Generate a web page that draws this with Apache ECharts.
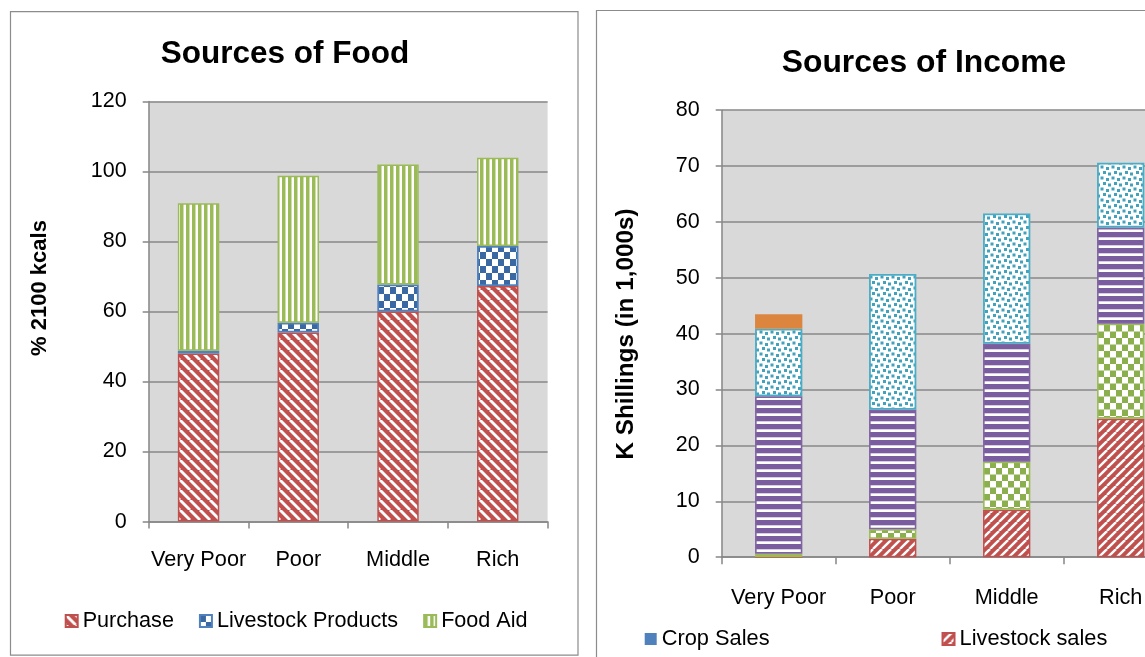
<!DOCTYPE html>
<html>
<head>
<meta charset="utf-8">
<script src="https://cdn.jsdelivr.net/npm/echarts@6/dist/echarts.min.js"></script>
<style>
html,body{margin:0;padding:0;background:#fff;}
#c{width:1145px;height:657px;}
</style>
</head>
<body>
<div id="c"></div>
<script>
// ---- data ----
const categories = ['Very Poor', 'Poor', 'Middle', 'Rich'];
// Sources of Food (% 2100 kcals)
const purchase = [48, 54, 60, 67.3];
const livestockProducts = [0.8, 2.8, 7.7, 11.4];
const foodAid = [42.1, 42, 34.3, 25.2];
const foodTicks = {min: 0, max: 120, interval: 20};
// Sources of Income (K Shillings in 1,000s)
const cropSales = [0, 0, 0, 0];
const livestockSales = [0, 3.3, 8.5, 24.8];
const produceSales = [0.6, 1.7, 8.6, 17.0];
const selfEmployment = [28.2, 21.4, 21.1, 17.2];
const labour = [12.1, 24.3, 23.3, 11.6];
const gifts = [2.6, 0, 0, 0];
const incomeTicks = {min: 0, max: 80, interval: 10};

// ---- patterns ----
function tile(w, h, draw) {
  const c = document.createElement('canvas');
  c.width = w; c.height = h;
  draw(c.getContext('2d'));
  return {image: c, repeat: 'repeat'};
}
const RED = '#C0504D', BLUE = '#4F81BD', GREEN = '#9BBB59', PURPLE = '#8064A2', TEAL = '#4BACC6', ORANGE = '#DB853F';

const patDown = tile(10, 10, ctx => { // "\" stripes
  ctx.fillStyle = RED; ctx.fillRect(0, 0, 10, 10);
  ctx.strokeStyle = '#fff'; ctx.lineWidth = 2.8;
  for (const k of [-10, 0, 10]) { ctx.beginPath(); ctx.moveTo(k, 0); ctx.lineTo(k + 10, 10); ctx.stroke(); }
});
const patUp = tile(9, 9, ctx => { // "/" stripes
  ctx.fillStyle = RED; ctx.fillRect(0, 0, 9, 9);
  ctx.strokeStyle = '#fff'; ctx.lineWidth = 2.4;
  for (const k of [-9, 0, 9]) { ctx.beginPath(); ctx.moveTo(k, 9); ctx.lineTo(k + 9, 0); ctx.stroke(); }
});
const patBlueCheck = tile(12, 14, ctx => {
  ctx.fillStyle = '#fff'; ctx.fillRect(0, 0, 12, 14);
  ctx.fillStyle = '#3A68A2'; ctx.fillRect(0, 0, 6, 7); ctx.fillRect(6, 7, 6, 7);
});
const patGreenCheck = tile(12, 13, ctx => {
  ctx.fillStyle = '#fff'; ctx.fillRect(0, 0, 12, 13);
  ctx.fillStyle = '#8CAF4E'; ctx.fillRect(0, 0, 6, 6.5); ctx.fillRect(6, 6.5, 6, 6.5);
});
const patVert = tile(6, 4, ctx => {
  ctx.fillStyle = '#fff'; ctx.fillRect(0, 0, 6, 4);
  ctx.fillStyle = GREEN; ctx.fillRect(0, 0, 3.5, 4);
});
const patHoriz = tile(4, 8, ctx => {
  ctx.fillStyle = '#fff'; ctx.fillRect(0, 0, 4, 8);
  ctx.fillStyle = '#7A5D9E'; ctx.fillRect(0, 0, 4, 5.3);
});
const patDots = tile(11, 11, ctx => {
  ctx.fillStyle = '#fff'; ctx.fillRect(0, 0, 11, 11);
  ctx.fillStyle = '#42A2BC';
  [[0.5, 0.5], [6, 2], [3, 6], [8, 7.5]].forEach(p => ctx.fillRect(p[0], p[1], 3, 3));
});

// ---- chart ----
const FONT = "'Liberation Sans', Arial, sans-serif";
const GRIDC = '#878787';
function xAx(gi, margin) {
  return {
    type: 'category', gridIndex: gi, data: categories,
    axisLine: {show: true, lineStyle: {color: GRIDC, width: 1.5}},
    axisTick: {show: true, interval: 0, length: 7, lineStyle: {color: GRIDC, width: 1.5}},
    axisLabel: {color: '#000', fontSize: 21.7, fontFamily: FONT, margin: margin, interval: 0}
  };
}
function yAx(gi, t) {
  return {
    type: 'value', gridIndex: gi, min: t.min, max: t.max, interval: t.interval,
    axisLine: {show: true, lineStyle: {color: GRIDC, width: 1.5}},
    axisTick: {show: true, length: 6, lineStyle: {color: GRIDC, width: 1.5}},
    splitLine: {show: true, lineStyle: {color: GRIDC, width: 1.5}},
    axisLabel: {color: '#000', fontSize: 21.5, fontFamily: FONT, margin: 22}
  };
}
function bar(name, data, gi, stack, color, border, bw) {
  return {
    type: 'bar', name: name, data: data, xAxisIndex: gi, yAxisIndex: gi, stack: stack,
    barWidth: '41.5%',
    itemStyle: {color: color, borderColor: border, borderWidth: bw},
    emphasis: {disabled: true}
  };
}

const chart = echarts.init(document.getElementById('c'), null, {renderer: 'canvas'});
chart.setOption({
  animation: false,
  backgroundColor: '#fff',
  grid: [
    {left: 148.7, top: 101.4, width: 398.9, height: 420.2, show: true, backgroundColor: '#D9D9D9', borderWidth: 0, outerBoundsMode: 'none'},
    {left: 721.7, top: 110.2, width: 456, height: 447, show: true, backgroundColor: '#D9D9D9', borderWidth: 0, outerBoundsMode: 'none'}
  ],
  xAxis: [xAx(0, 27), xAx(1, 30)],
  yAxis: [yAx(0, foodTicks), yAx(1, incomeTicks)],
  legend: [
    {data: ['Purchase', 'Livestock Products', 'Food Aid'], left: 59.7, top: 605, itemWidth: 12, itemHeight: 12, itemGap: 25,
     icon: 'rect', selectedMode: false, textStyle: {color: '#000', fontSize: 21.6, fontFamily: FONT}},
    {data: ['Crop Sales', 'Livestock sales'], left: 639.7, top: 623, itemWidth: 12, itemHeight: 12, itemGap: 172,
     icon: 'rect', selectedMode: false, textStyle: {color: '#000', fontSize: 21.8, fontFamily: FONT}}
  ],
  graphic: [
    {type: 'rect', shape: {x: 10.5, y: 11.7, width: 567.5, height: 643.5}, style: {fill: null, stroke: '#8C8C8C', lineWidth: 1.2}, silent: true, z: -1},
    {type: 'rect', shape: {x: 596.5, y: 10.5, width: 600, height: 700}, style: {fill: null, stroke: '#8C8C8C', lineWidth: 1.2}, silent: true, z: -1},
    {type: 'text', x: 285, y: 54.5, style: {text: 'Sources of Food', font: "bold 31.5px 'Liberation Sans', Arial, sans-serif", fill: '#000', textAlign: 'center', textVerticalAlign: 'middle'}},
    {type: 'text', x: 924, y: 63.7, style: {text: 'Sources of Income', font: "bold 31.8px 'Liberation Sans', Arial, sans-serif", fill: '#000', textAlign: 'center', textVerticalAlign: 'middle'}},
    {type: 'text', x: 39.5, y: 288, rotation: Math.PI / 2, style: {text: '% 2100 kcals', font: "bold 22px 'Liberation Sans', Arial, sans-serif", fill: '#000', textAlign: 'center', textVerticalAlign: 'middle'}},
    {type: 'text', x: 626, y: 334, rotation: Math.PI / 2, style: {text: 'K Shillings (in 1,000s)', font: "bold 24.3px 'Liberation Sans', Arial, sans-serif", fill: '#000', textAlign: 'center', textVerticalAlign: 'middle'}}
  ],
  series: [
    bar('Purchase', purchase, 0, 'food', patDown, RED, 1.5),
    bar('Livestock Products', livestockProducts, 0, 'food', patBlueCheck, BLUE, 1.8),
    bar('Food Aid', foodAid, 0, 'food', patVert, GREEN, 1.5),
    bar('Crop Sales', cropSales, 1, 'income', BLUE, BLUE, 0),
    bar('Livestock sales', livestockSales, 1, 'income', patUp, RED, 1.5),
    bar('Produce sales', produceSales, 1, 'income', patGreenCheck, GREEN, 1.6),
    bar('Self-employment', selfEmployment, 1, 'income', patHoriz, PURPLE, 1.6),
    bar('Labour', labour, 1, 'income', patDots, TEAL, 1.8),
    bar('Gifts', gifts, 1, 'income', ORANGE, ORANGE, 0)
  ]
});
</script>
</body>
</html>
